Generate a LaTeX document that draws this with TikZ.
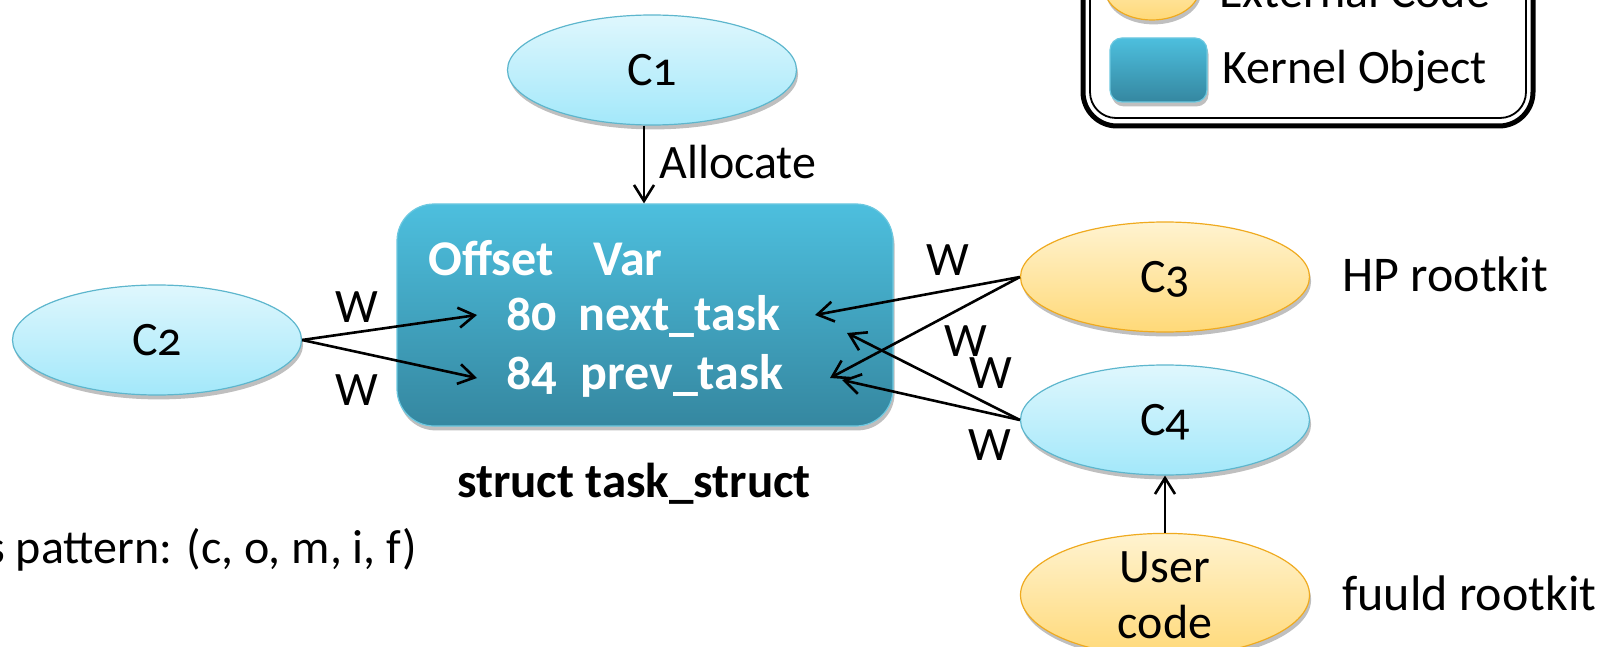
\documentclass[tikz,border=0pt]{standalone}
\usepackage{fontspec}
\setmainfont{Carlito}[Numbers=OldStyle]
\usetikzlibrary{arrows.meta,shadows,shapes.geometric}
\definecolor{cyanTop}{HTML}{DFF7FD}
\definecolor{cyanBot}{HTML}{A3E8FA}
\definecolor{cyanLine}{HTML}{5DB6CD}
\definecolor{sunTop}{HTML}{FFF3D0}
\definecolor{sunBot}{HTML}{FFD978}
\definecolor{sunLine}{HTML}{EFAA1F}
\definecolor{kernTop}{HTML}{4DBFDE}
\definecolor{kernBot}{HTML}{3587A0}
\definecolor{kernLine}{HTML}{6CC8E0}
\tikzset{
  soft/.style={drop shadow={shadow xshift=0.8pt,shadow yshift=-2.2pt,opacity=0.25,fill=black}},
  ellbase/.style={ellipse, minimum width=144.5pt, minimum height=55pt, inner sep=0pt, line width=0.6pt, soft},
  compcode/.style={ellbase, draw=cyanLine, top color=cyanTop, bottom color=cyanBot},
  extcode/.style={ellbase, draw=sunLine, top color=sunTop, bottom color=sunBot},
  capline/.style={text height=15.5pt, text depth=0pt},
  kobj/.style={rectangle, rounded corners=18.5pt, draw=kernLine, line width=0.6pt, top color=kernTop, bottom color=kernBot, soft},
  arr/.style={-{Straight Barb[length=8pt,width=10pt]}, line width=1.3pt},
  wlab/.style={inner sep=0pt},
  txt/.style={inner sep=0pt, anchor=base west},
  field/.style={inner sep=0pt, anchor=base west, text=white, font=\fontsize{25}{28}\selectfont\bfseries},
}
\begin{document}
\begin{tikzpicture}[x=0.5pt,y=-0.5pt,font=\fontsize{24}{28}\selectfont]
\clip (0,0) rectangle (1597,647);

% legend frame (top edge runs off the page)
\draw[line width=2.5pt, rounded corners=17pt] (1083,-120) rectangle (1533,126);
\draw[line width=0.9pt, rounded corners=13pt] (1090,-120) rectangle (1526,118);
\node[extcode, minimum width=47.5pt, minimum height=32pt] (lgext) at (1152,-12) {};
\node[txt] (lgexttxt) at (1219,8) {External Code};
\node[kobj, minimum width=48.5pt, minimum height=32pt, rounded corners=6pt, inner sep=0pt] (lgkern) at (1158.5,70) {};
\node[txt] (lgkerntxt) at (1222,84) {Kernel Object};

% the kernel object and its fields
\node[kobj, minimum width=248pt, minimum height=111pt, inner sep=0pt] (task) at (645,315) {};
\node[field] (offhd) at (428,275) {Offset};
\node[field] (varhd) at (593,275) {Var};
\node[field] (off80) at (506,330) {80};
\node[field] (fnext) at (578,330) {next\_task};
\node[field] (off84) at (506,389) {84};
\node[field] (fprev) at (580,389) {prev\_task};
\node[inner sep=0pt, anchor=base, font=\fontsize{24.5}{28}\selectfont\bfseries] (tsname) at (634,497) {struct task\_struct};

% code sites
\node[compcode, capline] (c1) at (652,70) {C1};
\node[compcode, capline] (c2) at (157,340) {C2};
\node[extcode, capline] (c3) at (1165,277) {C3};
\node[compcode, capline] (c4) at (1165,420) {C4};
\node[extcode, align=center] (user) at (1165,595) {User\\code};

% side notes
\node[txt, font=\fontsize{25}{28}\selectfont] (hpnote) at (1342,291) {HP rootkit};
\node[txt, font=\fontsize{25}{28}\selectfont] (fuuldnote) at (1342,610) {fuuld rootkit};
\node[txt, anchor=base east] (pattern) at (417,563) {s pattern: (c, o, m, i, f)};

% arrow end points on the field rows
\coordinate (nxtL) at (477,315);
\coordinate (prvL) at (477,378);
\coordinate (nxtR1) at (815,315);
\coordinate (prvR1) at (830,378);
\coordinate (nxtR2) at (847,333);
\coordinate (prvR2) at (842,380);

% allocation
\draw[arr] ([xshift=-4pt]c1.south) -- ([xshift=-4pt]c1.south |- task.north);
\node[txt] (alloclab) at (659,178) {Allocate};

% writes
\draw[arr] (c2.east) -- (nxtL);
\draw[arr] (c2.east) -- (prvL);
\draw[arr] (c3.west) -- (nxtR1);
\draw[arr] (c3.west) -- (prvR1);
\draw[arr] (c4.west) -- (nxtR2);
\draw[arr] (c4.west) -- (prvR2);
\draw[arr] (user.north) -- (c4.south);

\node[wlab] (w1) at (357,307) {W};
\node[wlab] (w2) at (357,390) {W};
\node[wlab] (w3) at (948,260) {W};
\node[wlab] (w4) at (966,341) {W};
\node[wlab] (w5) at (991,373) {W};
\node[wlab] (w6) at (990,445) {W};
\end{tikzpicture}
\end{document}
